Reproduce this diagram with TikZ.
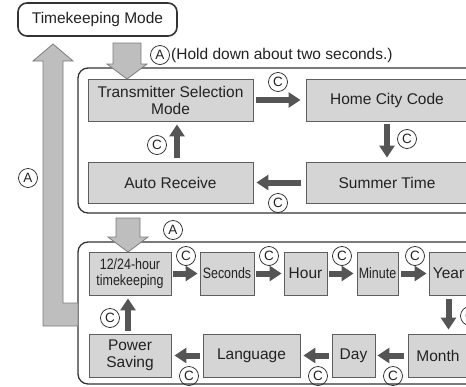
\documentclass[tikz,border=0pt]{standalone}
\usepackage{fontspec}
\setmainfont{Liberation Sans}
\newfontfamily\narrowfont[FakeStretch=0.83]{Liberation Sans}
\usetikzlibrary{arrows.meta,calc}
\definecolor{boxfill}{HTML}{D5D5D5}
\definecolor{boxline}{HTML}{5E5E5E}
\definecolor{fatfill}{HTML}{BEBEBE}
\definecolor{fatline}{HTML}{7C7C7C}
\definecolor{darkarrow}{HTML}{555555}
\definecolor{panelline}{HTML}{333333}
\definecolor{txt}{HTML}{222222}
\newcommand\mainsz{\fontsize{15.5}{17}\selectfont}
\newcommand\narrowsz{\narrowfont\fontsize{15}{16}\selectfont}
\newcommand\circsz{\fontsize{13.5}{14}\selectfont}
\begin{document}
\begin{tikzpicture}[x=1pt,y=-1pt,
  bx/.style={draw=boxline, fill=boxfill, line width=0.9pt, inner sep=0pt, align=center, text=txt, font=\mainsz},
  nbx/.style={bx, font=\narrowsz},
  panel/.style={draw=panelline, line width=1.3pt, rounded corners=10pt},
  fat/.style={fill=fatfill, draw=fatline, line width=0.8pt},
  darr/.style={draw=darkarrow, line width=6pt, -{Triangle[width=15pt,length=12pt]}},
  circ/.style={circle, draw=txt, line width=0.7pt, minimum size=19pt, inner sep=0pt, text=txt, font=\circsz},
  lbl/.style={inner sep=0pt, text=txt, font=\mainsz}]
\useasboundingbox (0,0) rectangle (466,386);
\begin{scope}
\clip (0,0) rectangle (466,386);
% panels
\draw[panel] (78,68) rectangle (482,213);
\draw[panel] (78,242) rectangle (482,384);
% timekeeping
\node[draw=panelline, line width=1.6pt, rounded corners=9pt, minimum width=159pt, minimum height=33pt, inner sep=0pt, text=txt, font=\mainsz] (tk) at (97.5,19.5) {Timekeeping Mode};
% upper boxes
\node[bx, minimum width=165pt, minimum height=42pt] (tsm) at (170.5,100) {Transmitter Selection\\Mode};
\node[bx, minimum width=162pt, minimum height=42pt] (hcc) at (387,100) {Home City Code};
\node[bx, minimum width=162pt, minimum height=41pt] (st) at (387,182.5) {Summer Time};
\node[bx, minimum width=165pt, minimum height=41pt] (ar) at (170.5,182.5) {Auto Receive};
% lower boxes
\node[nbx, minimum width=82pt, minimum height=43pt] (t12) at (130,273.5) {12/24-hour\\timekeeping};
\node[nbx, minimum width=54pt, minimum height=43pt] (sec) at (227,273.5) {Seconds};
\node[bx, minimum width=43pt, minimum height=43pt] (hour) at (305.5,273.5) {Hour};
\node[nbx, minimum width=41pt, minimum height=43pt] (min) at (377.5,273.5) {Minute};
\node[bx, minimum width=39pt, minimum height=43pt] (year) at (448.5,273.5) {Year};
\node[bx, minimum width=60pt, minimum height=43pt] (month) at (438,355.5) {Month};
\node[bx, minimum width=43pt, minimum height=43pt] (day) at (353.5,355.5) {Day};
\node[bx, minimum width=97pt, minimum height=43pt] (lang) at (251.5,355.5) {Language};
\node[bx, minimum width=82pt, minimum height=43pt] (ps) at (130,355.5) {Power\\Saving};
% fat arrows
\draw[fat] (113,43) -- (141,43) -- (141,64) -- (147,64) -- (127,79) -- (107,64) -- (113,64) -- cycle;
\draw[fat] (116,218) -- (140,218) -- (140,237) -- (148,237) -- (128,252) -- (108,237) -- (116,237) -- cycle;
\draw[fat] (53,44) -- (73,61) -- (63,61) -- (63,303) -- (78,303) -- (78,326) -- (43,326) -- (43,61) -- (33,61) -- cycle;
% dark arrows upper
\draw[darr] ([xshift=3pt]tsm.east) -- ([xshift=-5pt]hcc.west);
\draw[darr] ([yshift=-3pt]hcc.south) -- ([yshift=4pt]st.north);
\draw[darr] ([xshift=-5pt]st.west) -- ([xshift=3pt]ar.east);
\draw[darr] ([xshift=6.5pt,yshift=4pt]ar.north) -- ([xshift=6.5pt,yshift=-3pt]tsm.south);
% dark arrows lower
\draw[darr] ([xshift=2pt]t12.east) -- ([xshift=-2pt]sec.west);
\draw[darr] ([xshift=2pt]sec.east) -- ([xshift=-2pt]hour.west);
\draw[darr] ([xshift=2pt]hour.east) -- ([xshift=-3pt]min.west);
\draw[darr] ([xshift=3pt]min.east) -- ([xshift=-2pt]year.west);
\draw[darr] ([yshift=-4pt]year.south) -- ([yshift=4pt]year.south |- month.north);
\draw[darr] ([xshift=-4pt]month.west) -- ([xshift=2pt]day.east);
\draw[darr] ([xshift=-3pt]day.west) -- ([xshift=3pt]lang.east);
\draw[darr] ([xshift=-3pt]lang.west) -- ([xshift=3pt]ps.east);
\draw[darr] ([xshift=-2pt,yshift=3pt]ps.north) -- ([xshift=-2pt,yshift=-3pt]t12.south);
% circled labels
\node[circ] (a1) at (160,55) {A};
\node[lbl, anchor=west] (hold) at (171,55) {(Hold down about two seconds.)};
\node[circ] (a2) at (28,178) {A};
\node[circ] (a3) at (173,230) {A};
\node[circ] (c1) at (278,82) {C};
\node[circ] (c2) at (407,139) {C};
\node[circ] (c3) at (278,203) {C};
\node[circ] (c4) at (157,145) {C};
\node[circ] (c5) at (186,256) {C};
\node[circ] (c6) at (269,256) {C};
\node[circ] (c7) at (342,256) {C};
\node[circ] (c8) at (415,256) {C};
\node[circ] (c9) at (470,316) {C};
\node[circ] (c10) at (393,376) {C};
\node[circ] (c11) at (318,376) {C};
\node[circ] (c12) at (189,376) {C};
\node[circ] (c13) at (110,318) {C};
\end{scope}
\end{tikzpicture}
\end{document}
